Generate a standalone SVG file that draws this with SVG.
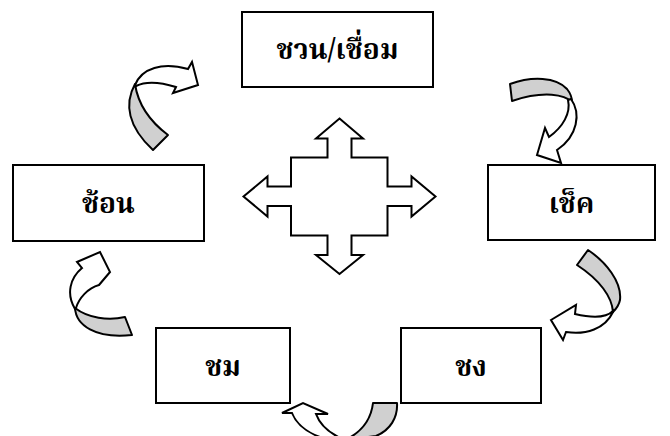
<svg xmlns="http://www.w3.org/2000/svg" width="670" height="436" viewBox="0 0 670 436">
  <style>
    .box { fill: #fff; stroke: #000; stroke-width: 2; }
    .lbl { font-family: "Noto Serif Thai", "Noto Sans Thai", "Liberation Serif", serif; font-weight: bold; font-size: 28px; text-anchor: middle; fill: #000; }
    .back { fill: #d0d0d0; stroke: #000; stroke-width: 2; stroke-linejoin: round; }
    .front { fill: #fff; stroke: #000; stroke-width: 2; stroke-linejoin: miter; }
    .cross { fill: #fff; stroke: #000; stroke-width: 2; stroke-linejoin: miter; }
  </style>
  <rect width="670" height="436" fill="#fff"/>

  <g id="connectors">
    <!-- four-way arrow in the middle -->
    <path class="cross" d="M339.5,118.5 L363,138.5 L351.5,138.5 L351.5,157.5 L387.5,157.5 L387.5,186.5 L411.5,186.5 L411.5,176.5 L435.5,196.5 L411.5,216.5 L411.5,206 L387.5,206 L387.5,235.5 L351.5,235.5 L351.5,255 L363,255 L339.5,274 L316,255 L327.5,255 L327.5,235.5 L291,235.5 L291,206 L267.5,206 L267.5,216.5 L243.5,196.5 L267.5,176.5 L267.5,186.5 L291,186.5 L291,157.5 L327.5,157.5 L327.5,138.5 L316,138.5 Z"/>

    <!-- ช้อน to ชวน/เชื่อม -->
    <g id="arc-1">
      <path class="back" d="M153,150 C128,127 124,104 135,84 C138,104 148,120 168,135 Z"/>
      <path class="front" d="M135,85 C142,68 162,62 188,69 L192,62 L198,85 L173,93 L176,87 C160,82 146,81 136,86 Z"/>
    </g>

    <!-- ชวน/เชื่อม to เช็ค -->
    <g id="arc-2">
      <path class="back" d="M510,84 C532,76 556,77 567,89 C571,94 572,98 572,102 C565,95 545,90 512,101 Z"/>
      <path class="front" d="M571,99 C581,113 578,136 557,150 L561,163 L537,155 L545,128 L549,137 C563,127 571,113 568,100 Z"/>
    </g>

    <!-- เช็ค to ชง -->
    <g id="arc-3">
      <path class="back" d="M577,265 L588,250 C606,262 622,282 620,300 C619,305 616,309 613,312 C612,297 600,280 577,265 Z"/>
      <path class="front" d="M613,311 C606,318 592,318 575,314 L576,305 L551,320 L563,340 L566,332 C586,335 605,329 613,312 Z"/>
    </g>

    <!-- ชง to ชม -->
    <g id="arc-4">
      <path class="back" d="M373,403 L397,403 C398,418 390,430 376,436 L345,440 C362,432 371,420 373,403 Z"/>
      <path class="front" d="M345,440 C330,434 320,425 316,414 L328,414 L303,403 L282,413 L292,413 C298,428 315,438 340,442 Z"/>
    </g>

    <!-- ชม to ช้อน -->
    <g id="arc-5">
      <path class="back" d="M125,317 C108,321 88,318 75,308 C76,325 95,339 132,335 Z"/>
      <path class="front" d="M75,309 C66,294 70,278 82,268 L77,262 L100,252 L110,272 L99,285 C88,288 79,298 76,308 Z"/>
    </g>
  </g>

  <g id="node-join">
    <rect class="box" x="242" y="12" width="191" height="75"/>
    <text class="lbl" x="337.5" y="59">ชวน/เชื่อม</text>
  </g>
  <g id="node-check">
    <rect class="box" x="488" y="165" width="167" height="75"/>
    <text class="lbl" x="571.5" y="213">เช็ค</text>
  </g>
  <g id="node-brew">
    <rect class="box" x="401" y="328" width="140" height="75"/>
    <text class="lbl" x="471" y="376">ชง</text>
  </g>
  <g id="node-taste">
    <rect class="box" x="156" y="328" width="134" height="75"/>
    <text class="lbl" x="223" y="376">ชม</text>
  </g>
  <g id="node-spoon">
    <rect class="box" x="13" y="165" width="191" height="76"/>
    <text class="lbl" x="108.5" y="213">ช้อน</text>
  </g>
</svg>
